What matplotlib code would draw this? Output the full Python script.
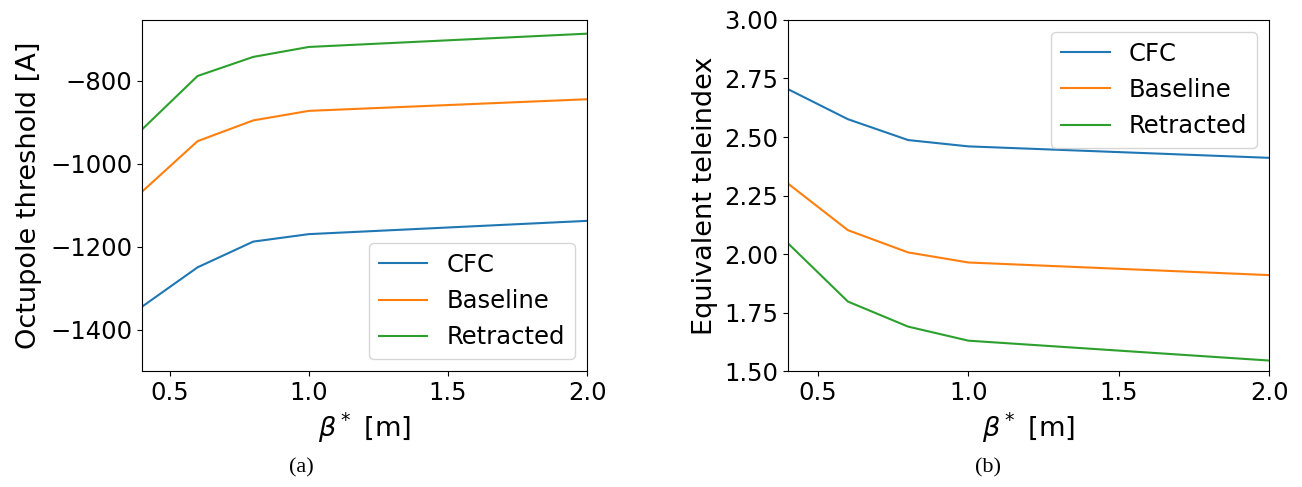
import matplotlib
matplotlib.use("Agg")
import matplotlib.pyplot as plt

beta = [0.4, 0.6, 0.8, 1.0, 2.0]
labels = ["CFC", "Baseline", "Retracted"]

# octupole threshold [A]
oct_cfc = [-1345, -1250, -1188, -1170, -1138]
oct_base = [-1068, -946, -896, -873, -845]
oct_retr = [-918, -789, -743, -719, -687]

# equivalent teleindex
tele_cfc = [2.705, 2.576, 2.487, 2.460, 2.411]
tele_base = [2.302, 2.102, 2.007, 1.964, 1.910]
tele_retr = [2.047, 1.797, 1.690, 1.630, 1.545]

tick_fs = 17.5
lab_fs = 19.5
leg_fs = 17.5

fig = plt.figure(figsize=(13.02, 4.87), dpi=100)
ax1 = fig.add_axes([0.109, 0.238, 0.342, 0.721])
ax2 = fig.add_axes([0.605, 0.238, 0.370, 0.721])

for y, lab in zip([oct_cfc, oct_base, oct_retr], labels):
    ax1.plot(beta, y, label=lab)
ax1.set_xlim(0.4, 2.0)
ax1.set_ylim(-1500, -654)
ax1.set_xlabel(r"$\beta^*$ [m]", fontsize=lab_fs)
ax1.set_ylabel("Octupole threshold [A]", fontsize=lab_fs, labelpad=6)
ax1.set_xticks([0.5, 1.0, 1.5, 2.0])
ax1.set_yticks([-1400, -1200, -1000, -800])
ax1.tick_params(labelsize=tick_fs)
ax1.legend(loc="lower right", fontsize=leg_fs)

for y, lab in zip([tele_cfc, tele_base, tele_retr], labels):
    ax2.plot(beta, y, label=lab)
ax2.set_xlim(0.4, 2.0)
ax2.set_ylim(1.5, 3.0)
ax2.set_xlabel(r"$\beta^*$ [m]", fontsize=lab_fs)
ax2.set_ylabel("Equivalent teleindex", fontsize=lab_fs)
ax2.set_xticks([0.5, 1.0, 1.5, 2.0])
ax2.set_yticks([1.5, 1.75, 2.0, 2.25, 2.5, 2.75, 3.0])
ax2.tick_params(labelsize=tick_fs)
ax2.legend(loc="upper right", fontsize=leg_fs)

fig.text(301 / 1302, 1 - 468 / 487, "(a)", family="Liberation Serif",
         fontsize=16, ha="center", va="center")
fig.text(988 / 1302, 1 - 468 / 487, "(b)", family="Liberation Serif",
         fontsize=16, ha="center", va="center")

fig.savefig("out.png", dpi=100)
